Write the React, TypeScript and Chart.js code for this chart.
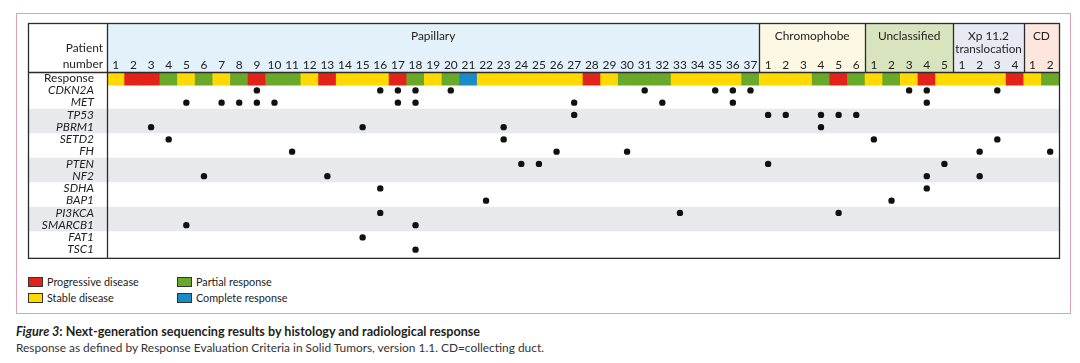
import React, { useEffect, useRef } from 'react';
import { Chart, registerables } from 'chart.js';

Chart.register(...registerables);

const FONT = 'Lato, "Open Sans", sans-serif';
const FS = 11.9;

// Histology groups
const groupNames = ['Papillary', 'Chromophobe', 'Unclassified', 'Xp 11.2|translocation', 'CD'];
const groupCodes = ['P', 'C', 'U', 'X', 'D'];
const groupSizes = [37, 6, 5, 4, 2];
const groupColors = ['#e3f1fa', '#fdf8e4', '#d7e4bd', '#e8eaf3', '#fce6dd'];

// Radiological response per patient (columns, in order)
const responses = [
  // Papillary 1-37
  'SD', 'PD', 'PD', 'PR', 'SD', 'PR', 'SD', 'PR', 'PD', 'PR', 'PR', 'SD', 'PD', 'SD', 'SD', 'SD', 'PD', 'PR', 'SD',
  'PR', 'CR', 'SD', 'SD', 'SD', 'SD', 'SD', 'SD', 'PD', 'SD', 'PR', 'PR', 'PR', 'SD', 'SD', 'SD', 'SD', 'PR',
  // Chromophobe 1-6
  'SD', 'SD', 'SD', 'PR', 'PD', 'PR',
  // Unclassified 1-5
  'SD', 'PR', 'SD', 'PD', 'SD',
  // Xp 11.2 translocation 1-4
  'SD', 'SD', 'SD', 'PD',
  // Collecting duct 1-2
  'SD', 'PR',
];

const responseCodes = ['PD', 'SD', 'PR', 'CR'];
const responseLabels = ['Progressive disease', 'Stable disease', 'Partial response', 'Complete response'];
const responseColors = ['#e2231a', '#ffd900', '#6aa829', '#1a8bc7'];

// Genes and the patients with an alteration
const genes = ['CDKN2A', 'MET', 'TP53', 'PBRM1', 'SETD2', 'FH', 'PTEN', 'NF2', 'SDHA', 'BAP1', 'PI3KCA', 'SMARCB1', 'FAT1', 'TSC1'];
const geneHits = [
  ['P9', 'P16', 'P17', 'P18', 'P20', 'P31', 'P35', 'P36', 'P37', 'U3', 'U4', 'X3'],
  ['P5', 'P7', 'P8', 'P9', 'P10', 'P17', 'P18', 'P27', 'P32', 'P36', 'U4'],
  ['P27', 'C1', 'C2', 'C4', 'C5', 'C6'],
  ['P3', 'P15', 'P23', 'C4'],
  ['P4', 'P23', 'U1', 'X3'],
  ['P11', 'P26', 'P30', 'X2', 'D2'],
  ['P24', 'P25', 'C1', 'U5'],
  ['P6', 'P13', 'U4', 'X2'],
  ['P16', 'U4'],
  ['P22', 'U2'],
  ['P16', 'P33', 'C5'],
  ['P5', 'P18'],
  ['P15'],
  ['P18'],
];
const shadedGenes = ['TP53', 'PBRM1', 'PTEN', 'NF2', 'PI3KCA', 'SMARCB1'];

const rowLabels = ['Response', ...genes];

// derived helpers
const groupOffsets = groupSizes.map((_, i) => groupSizes.slice(0, i).reduce((a, b) => a + b, 0));
const colLabels: string[] = [];
groupSizes.forEach((n) => {
  for (let k = 1; k <= n; k++) colLabels.push(String(k));
});
const colOf = (id: string) => groupOffsets[groupCodes.indexOf(id[0])] + parseInt(id.slice(1), 10);
const nCols = colLabels.length;

const BAR_TOP = -0.45;
const BAR_BOTTOM = 0.58;

const tablePlugin = {
  id: 'tableDecor',
  beforeDraw(chart: any) {
    const { ctx, chartArea, scales } = chart;
    const x = scales.x;
    const y = scales.y;
    const left = y.left;
    const right = chartArea.right;
    const top = x.top;
    ctx.save();
    groupSizes.forEach((n, i) => {
      const x0 = x.getPixelForValue(groupOffsets[i] + 0.5);
      const x1 = x.getPixelForValue(groupOffsets[i] + n + 0.5);
      ctx.fillStyle = groupColors[i];
      ctx.fillRect(x0, top, x1 - x0, chartArea.top - top);
    });
    ctx.fillStyle = '#e8e9ed';
    shadedGenes.forEach((g) => {
      const r = rowLabels.indexOf(g);
      const y0 = y.getPixelForValue(r - 0.5);
      const y1 = y.getPixelForValue(r + 0.5);
      ctx.fillRect(left, y0, right - left, y1 - y0);
    });
    ctx.restore();
  },
  afterDraw(chart: any) {
    const { ctx, chartArea, scales } = chart;
    const x = scales.x;
    const y = scales.y;
    const left = y.left;
    const right = chartArea.right;
    const top = x.top;
    const bottom = chartArea.bottom;
    ctx.save();
    ctx.strokeStyle = '#2b2b2b';
    ctx.lineWidth = 1.3;
    ctx.strokeRect(left + 0.5, top + 0.5, right - left, bottom - top);
    ctx.beginPath();
    ctx.moveTo(left, chartArea.top + 0.5);
    ctx.lineTo(right, chartArea.top + 0.5);
    ctx.moveTo(chartArea.left + 0.5, top);
    ctx.lineTo(chartArea.left + 0.5, bottom);
    groupSizes.forEach((n, i) => {
      if (i === 0) return;
      const xp = Math.round(x.getPixelForValue(groupOffsets[i] + 0.5)) + 0.5;
      ctx.moveTo(xp, top);
      ctx.lineTo(xp, chartArea.top);
    });
    ctx.stroke();

    ctx.fillStyle = '#222';
    ctx.font = `${FS}px ${FONT}`;
    ctx.textBaseline = 'middle';
    ctx.textAlign = 'center';
    groupNames.forEach((name, i) => {
      const x0 = x.getPixelForValue(groupOffsets[i] + 0.5);
      const x1 = x.getPixelForValue(groupOffsets[i] + groupSizes[i] + 0.5);
      name.split('|').forEach((line, j) => {
        ctx.fillText(line, (x0 + x1) / 2, top + 13 + j * 13, x1 - x0 - 4);
      });
    });
    ctx.textAlign = 'right';
    const numY = chartArea.top - 7.5;
    ctx.fillText('number', chartArea.left - 4, numY);
    ctx.fillText('Patient', chartArea.left - 4, numY - 16);
    ctx.restore();
  },
};

export default function App() {
  const ref = useRef<HTMLCanvasElement | null>(null);

  useEffect(() => {
    if (!ref.current) return;
    const barData = responses.map((_, i) => ({ x: i + 1, y: [BAR_TOP, BAR_BOTTOM] }));
    const dotData: { x: number; y: number }[] = [];
    geneHits.forEach((ids, gi) => {
      ids.forEach((id) => dotData.push({ x: colOf(id), y: gi + 1 }));
    });

    const chart = new Chart(ref.current, {
      type: 'bar',
      data: {
        datasets: [
          {
            type: 'bar',
            label: 'Response',
            data: barData as any,
            backgroundColor: (c: any) => responseColors[responseCodes.indexOf(responses[c.dataIndex])],
            borderWidth: 0,
            barPercentage: 1,
            categoryPercentage: 1,
            order: 2,
          } as any,
          {
            type: 'scatter',
            label: 'Alterations',
            data: dotData,
            backgroundColor: '#111',
            borderWidth: 0,
            pointRadius: 3.2,
            order: 1,
          } as any,
        ],
      },
      options: {
        animation: false,
        responsive: false,
        maintainAspectRatio: false,
        events: [],
        layout: { padding: { left: 28, top: 23, right: 21, bottom: 6 } },
        plugins: { legend: { display: false }, tooltip: { enabled: false } },
        scales: {
          x: {
            type: 'linear',
            position: 'top',
            min: 0.5,
            max: nCols + 0.5,
            offset: false,
            grid: { display: false, offset: false },
            border: { display: false },
            afterBuildTicks: (s: any) => {
              s.ticks = colLabels.map((_, i) => ({ value: i + 1 }));
            },
            ticks: {
              autoSkip: false,
              maxRotation: 0,
              padding: -8.5,
              color: '#222',
              font: { family: FONT, size: FS },
              callback: (v: any) => colLabels[Math.round(v) - 1] ?? '',
            },
            afterFit: (s: any) => {
              s.height = 49;
            },
          },
          y: {
            type: 'linear',
            reverse: true,
            min: -0.5,
            max: 14.67,
            grid: { display: false },
            border: { display: false },
            afterBuildTicks: (s: any) => {
              s.ticks = rowLabels.map((_, i) => ({ value: i }));
            },
            ticks: {
              autoSkip: false,
              padding: 5,
              color: '#222',
              font: (c: any) => ({
                family: FONT,
                size: FS,
                style: c.tick && c.tick.value === 0 ? 'normal' : 'italic',
              }),
              callback: (v: any) => rowLabels[Math.round(v)] ?? '',
            },
            afterFit: (s: any) => {
              s.width = 79;
            },
          },
        },
      } as any,
      plugins: [tablePlugin],
    });
    return () => chart.destroy();
  }, []);

  const legendPos = [
    { left: 28, top: 277 },
    { left: 28, top: 293 },
    { left: 177, top: 277 },
    { left: 177, top: 293 },
  ];

  return (
    <div style={{ position: 'absolute', left: 0, top: 0, width: 1080, height: 363, background: '#fff', fontFamily: FONT, overflow: 'hidden' }}>
      <div style={{ position: 'absolute', left: 16, top: 13, width: 1055, height: 301, border: '1.5px solid #d9a2b8', boxSizing: 'border-box' }} />
      <canvas ref={ref} width={1080} height={270} style={{ position: 'absolute', left: 0, top: 0, width: 1080, height: 270 }} />
      {responseLabels.map((lab, i) => (
        <div key={lab} style={{ position: 'absolute', left: legendPos[i].left, top: legendPos[i].top, height: 10, display: 'flex', alignItems: 'center', whiteSpace: 'nowrap' }}>
          <span style={{ display: 'inline-block', width: 13, height: 8, background: responseColors[i], border: '1px solid #333', marginRight: 4 }} />
          <span style={{ fontSize: 10.8, color: '#222', lineHeight: '10px' }}>{lab}</span>
        </div>
      ))}
      <div style={{ position: 'absolute', left: 16, top: 324, lineHeight: '16px', color: '#231f20', whiteSpace: 'nowrap' }}>
        <div style={{ fontWeight: 700, fontSize: 12.6 }}>
          <i>Figure 3</i>: Next-generation sequencing results by histology and radiological response
        </div>
        <div style={{ color: '#333', fontSize: 11.9 }}>
          Response as defined by Response Evaluation Criteria in Solid Tumors, version 1.1. CD=collecting duct.
        </div>
      </div>
    </div>
  );
}
